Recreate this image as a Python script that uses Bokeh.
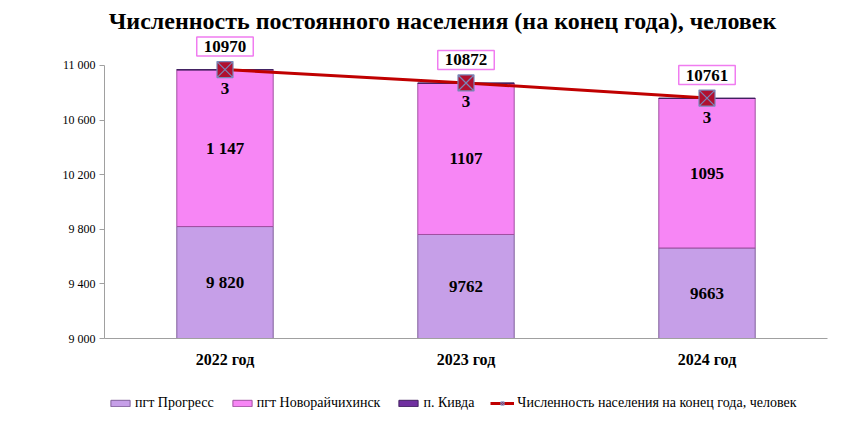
from bokeh.plotting import figure
from bokeh.layouts import column
from bokeh.models import (ColumnDataSource, FixedTicker, LabelSet, Legend, LegendItem,
                          Label, Range1d, FactorRange)
from bokeh.embed import file_html
from bokeh.resources import INLINE
from bokeh.core.properties import value

years = ["2022 год", "2023 год", "2024 год"]
progress = [9820, 9762, 9663]
novo = [1147, 1107, 1095]
kivda = [3, 3, 3]
totals = [10970, 10872, 10761]
progress_labels = ["9 820", "9762", "9663"]
novo_labels = ["1 147", "1107", "1095"]
kivda_labels = ["3", "3", "3"]
total_labels = ["10970", "10872", "10761"]
y_ticks = [9000, 9400, 9800, 10200, 10600, 11000]
y_tick_labels = ["9 000", "9 400", "9 800", "10 200", "10 600", "11 000"]
series_names = ["пгт Прогресс", "пгт Новорайчихинск", "п. Кивда",
                "Численность населения на конец года, человек"]
title_text = "Численность постоянного населения (на конец года), человек"

FONT = "Liberation Serif"
C_PROG = "#C69FE8"
C_NOVO = "#F786F5"
C_KIV = "#7030A0"
C_LINE = "#C00000"
BAR_LINES = ["#80609A", "#A050A0", "#402060"]
Y_MIN = 9000

src = ColumnDataSource(dict(
    x=years, progress=progress, novo=novo, kivda=kivda, totals=totals,
    prog_mid=[(Y_MIN + v) / 2 for v in progress],
    novo_mid=[a + b / 2 for a, b in zip(progress, novo)],
    progress_labels=progress_labels, novo_labels=novo_labels,
    kivda_labels=kivda_labels, total_labels=total_labels,
))

# ---------------- main chart ----------------
p = figure(width=839, height=380, x_range=FactorRange(*years, range_padding=0),
           y_range=Range1d(Y_MIN, 11476), output_backend="svg", toolbar_location=None,
           min_border_left=104, min_border_right=12, min_border_top=0, min_border_bottom=42)
p.outline_line_color = None
p.xgrid.grid_line_color = None
p.ygrid.grid_line_color = None

bars = p.vbar_stack(["progress", "novo", "kivda"], x="x", width=0.4, source=src,
                    color=[C_PROG, C_NOVO, C_KIV], line_color=BAR_LINES, line_width=1)
line = p.line(x="x", y="totals", source=src, line_color=C_LINE, line_width=3)
marks = p.scatter(x="x", y="totals", source=src, marker="square_x", size=16,
                  fill_color="#B01030", line_color="#7A86B8", line_width=1.2)

common = dict(text_font=value(FONT), text_font_style="bold", text_font_size="17px",
              text_color="black", text_align="center", text_baseline="middle")
p.add_layout(LabelSet(x="x", y="prog_mid", text="progress_labels", source=src, **common))
p.add_layout(LabelSet(x="x", y="novo_mid", text="novo_labels", source=src, **common))
p.add_layout(LabelSet(x="x", y="totals", text="kivda_labels", source=src, y_offset=-19, **common))
p.text(x="x", y="totals", text="total_labels", source=src, y_offset=-23,
       background_fill_color="white", border_line_color="#F07CF0",
       border_line_width=1.5, padding=[7, 4], **common)

p.add_layout(Label(x=338, y=318, x_units="screen", y_units="screen", text=title_text,
                   text_font=FONT, text_font_style="bold", text_font_size="24px",
                   text_align="center", text_baseline="middle", text_color="black"))

ya = p.yaxis[0]
ya.bounds = (Y_MIN, 11000)
ya.ticker = FixedTicker(ticks=y_ticks)
ya.major_label_overrides = dict(zip(y_ticks, y_tick_labels))
ya.major_label_text_font = FONT
ya.major_label_text_font_size = "12px"
ya.major_label_text_color = "black"
ya.axis_line_color = "#A0A0A0"
ya.major_tick_line_color = "#A0A0A0"
ya.major_tick_out = 5
ya.major_tick_in = 0
ya.minor_tick_line_color = None
ya.major_label_standoff = 4

xa = p.xaxis[0]
xa.axis_line_color = "#A0A0A0"
xa.major_tick_line_color = None
xa.minor_tick_line_color = None
xa.major_label_text_font = FONT
xa.major_label_text_font_style = "bold"
xa.major_label_text_font_size = "16px"
xa.major_label_text_color = "black"
xa.major_label_standoff = 6

# ---------------- legend strip ----------------
lg = figure(width=839, height=31, x_range=FactorRange(*years, range_padding=0),
            y_range=Range1d(-2, -1), output_backend="svg", toolbar_location=None,
            x_axis_location=None, y_axis_location=None,
            min_border_left=0, min_border_right=0, min_border_top=0, min_border_bottom=0)
lg.outline_line_color = None
lg.xgrid.grid_line_color = None
lg.ygrid.grid_line_color = None
lbars = lg.vbar_stack(["progress", "novo", "kivda"], x="x", width=0.4, source=src,
                      color=[C_PROG, C_NOVO, C_KIV], line_color=BAR_LINES, line_width=1)
lline = lg.line(x="x", y="totals", source=src, line_color=C_LINE, line_width=3)
lmarks = lg.scatter(x="x", y="totals", source=src, marker="square_x", size=10,
                    fill_color="#B01030", line_color="#7A86B8", line_width=1)
for r in list(lbars) + [lline, lmarks]:
    r.visible = False

legend = Legend(items=[
    LegendItem(label=series_names[0], renderers=[lbars[0]]),
    LegendItem(label=series_names[1], renderers=[lbars[1]]),
    LegendItem(label=series_names[2], renderers=[lbars[2]]),
    LegendItem(label=series_names[3], renderers=[lline, lmarks]),
], orientation="horizontal", location=(4, 0), click_policy="none")
legend.label_text_font = FONT
legend.label_text_font_size = "14px"
legend.label_text_color = "black"
legend.glyph_width = 24
legend.glyph_height = 8
legend.spacing = 16
legend.label_standoff = 3
legend.padding = 0
legend.margin = 0
legend.border_line_color = None
legend.background_fill_alpha = 0
lg.add_layout(legend, "center")

layout = column(p, lg, spacing=0)
open("out.html", "w").write(file_html(layout, INLINE))
